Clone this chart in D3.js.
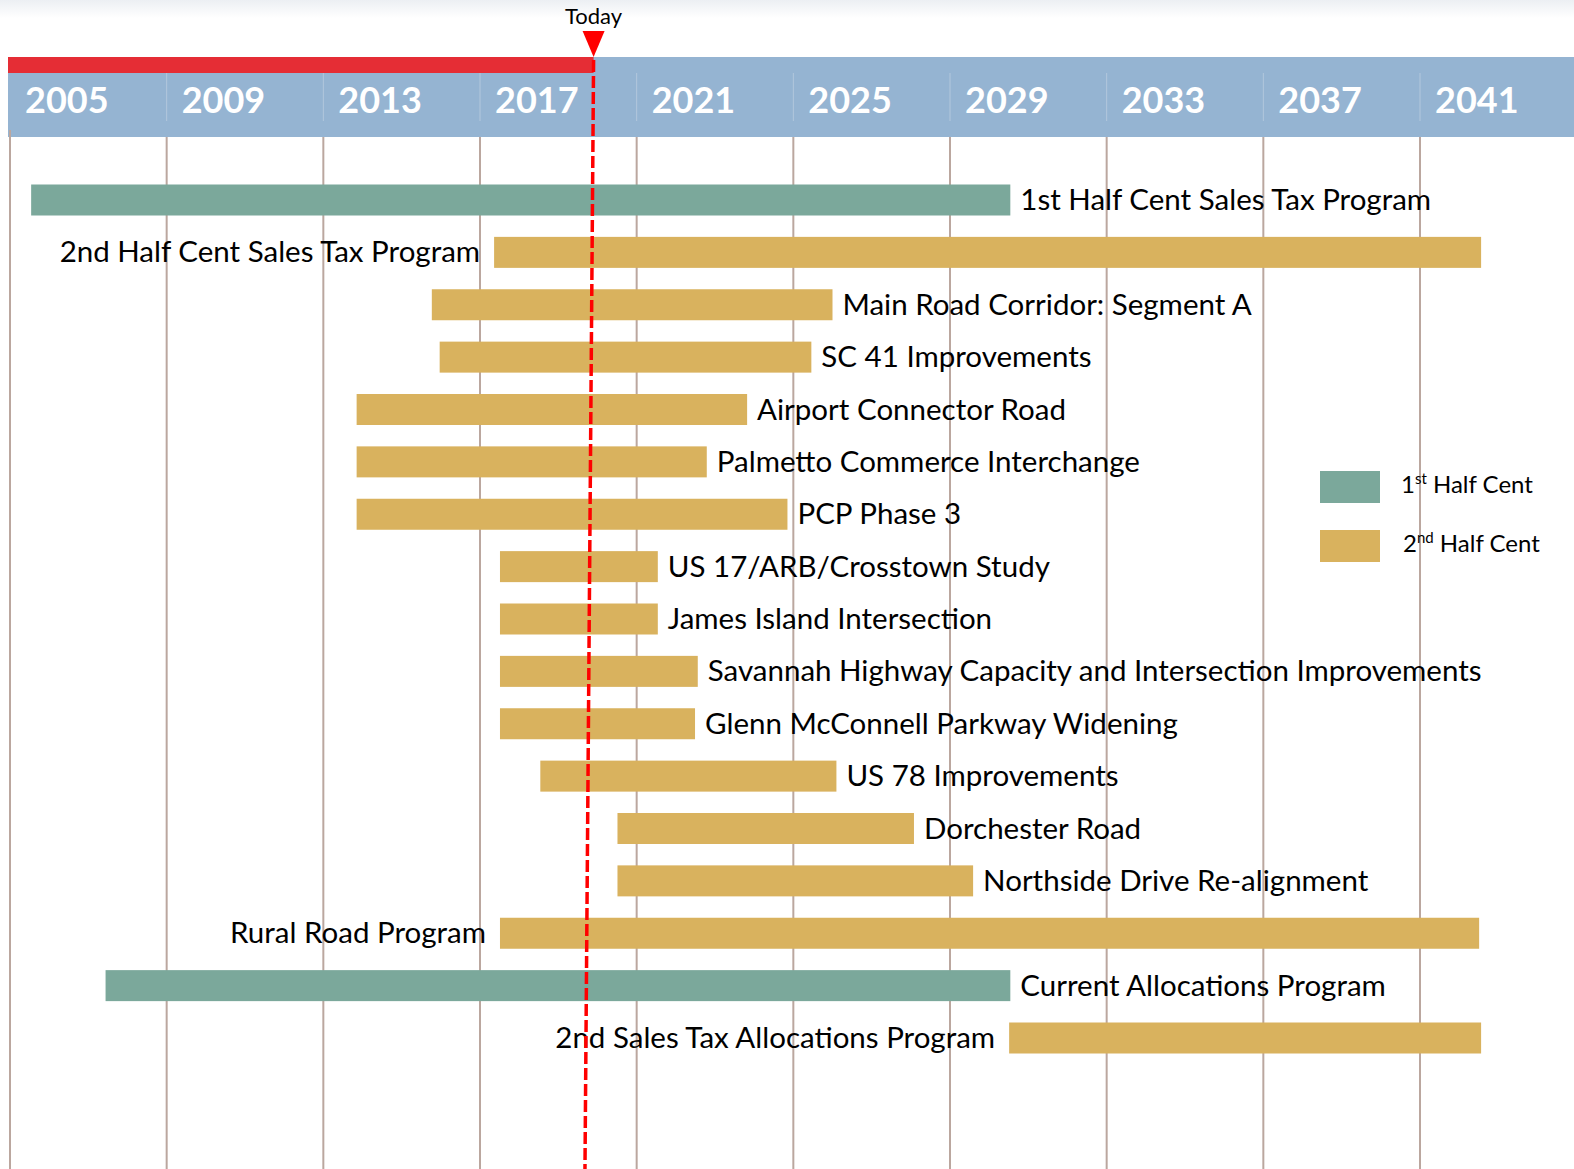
<!DOCTYPE html>
<html><head><meta charset="utf-8">
<script src="https://cdn.jsdelivr.net/npm/d3@7"></script>
<style>html,body{margin:0;padding:0;background:#fff;}svg{display:block;}</style>
</head><body>
<script>
// ---- data ----
const projects = [
  "1st Half Cent Sales Tax Program",
  "2nd Half Cent Sales Tax Program",
  "Main Road Corridor: Segment A",
  "SC 41 Improvements",
  "Airport Connector Road",
  "Palmetto Commerce Interchange",
  "PCP Phase 3",
  "US 17/ARB/Crosstown Study",
  "James Island Intersection",
  "Savannah Highway Capacity and Intersection Improvements",
  "Glenn McConnell Parkway Widening",
  "US 78 Improvements",
  "Dorchester Road",
  "Northside Drive Re-alignment",
  "Rural Road Program",
  "Current Allocations Program",
  "2nd Sales Tax Allocations Program"
];
const startYears = [2005.54, 2017.36, 2015.77, 2015.97, 2013.85, 2013.85, 2013.85, 2017.51, 2017.51, 2017.51, 2017.51, 2018.54, 2020.51, 2020.51, 2017.51, 2007.44, 2030.51];
const endYears   = [2030.54, 2042.56, 2026.00, 2025.46, 2023.82, 2022.79, 2024.85, 2021.54, 2021.54, 2022.56, 2022.49, 2026.10, 2028.08, 2029.59, 2042.51, 2030.54, 2042.56];
const program    = ["1st","2nd","2nd","2nd","2nd","2nd","2nd","2nd","2nd","2nd","2nd","2nd","2nd","2nd","2nd","1st","2nd"];
const labelSide  = ["right","left","right","right","right","right","right","right","right","right","right","right","right","right","left","right","left"];
const tickYears  = [2005, 2009, 2013, 2017, 2021, 2025, 2029, 2033, 2037, 2041];
const todayLine  = [2019.9, 2019.68]; // top, bottom (as drawn in the source)
const legendKeys = ["1st", "2nd"];
const legendSup  = ["st", "nd"];
const legendNum  = ["1", "2"];

// ---- setup ----
const W = 1574, H = 1169;
const colors = {"1st": "#7ba89b", "2nd": "#d9b25e"};
const svg = d3.select("body").append("svg").attr("width", W).attr("height", H);

const x = d3.scaleLinear().domain([2005, 2041]).range([10, 1420]);
const y = d3.scalePoint().domain(projects).range([200, 1038]);
const barH = 31;

// faint top gradient
const defs = svg.append("defs");
const g0 = defs.append("linearGradient").attr("id", "topg").attr("x1", 0).attr("y1", 0).attr("x2", 0).attr("y2", 1);
g0.append("stop").attr("offset", 0).attr("stop-color", "#eceff3");
g0.append("stop").attr("offset", 1).attr("stop-color", "#ffffff");
svg.append("rect").attr("x", 0).attr("y", 0).attr("width", W).attr("height", 18).attr("fill", "url(#topg)");

// header band
const headTop = 57, headBot = 137;
svg.append("rect").attr("x", 8).attr("y", headTop).attr("width", W - 8).attr("height", headBot - headTop).attr("fill", "#95b4d2");
svg.append("rect").attr("x", 8).attr("y", headTop).attr("width", x(todayLine[0]) - 8).attr("height", 16).attr("fill", "#e52d35");

// header separators
svg.append("g").selectAll("line").data(tickYears.slice(1)).join("line")
  .attr("x1", d => x(d)).attr("x2", d => x(d))
  .attr("y1", 73).attr("y2", 121)
  .attr("stroke", "#b3c8dd").attr("stroke-width", 1);

// year labels
svg.append("g").selectAll("text").data(tickYears).join("text")
  .attr("x", d => x(d) + 15).attr("y", 113)
  .attr("fill", "#ffffff")
  .attr("font-family", "Lato, 'Open Sans', sans-serif")
  .attr("font-weight", "bold")
  .attr("font-size", 36)
  .text(d => d);

// gridlines
svg.append("g").selectAll("line").data(tickYears).join("line")
  .attr("x1", d => x(d)).attr("x2", d => x(d))
  .attr("y1", d => d === 2005 ? 130 : headBot).attr("y2", H)
  .attr("stroke", "#bba79f").attr("stroke-width", 2);

// bars
const rows = projects.map((p, i) => ({name: p, s: startYears[i], e: endYears[i], prog: program[i], side: labelSide[i]}));
svg.append("g").selectAll("rect").data(rows).join("rect")
  .attr("x", d => x(d.s)).attr("width", d => x(d.e) - x(d.s))
  .attr("y", d => y(d.name) - barH / 2).attr("height", barH)
  .attr("fill", d => colors[d.prog]);

// labels
svg.append("g").selectAll("text").data(rows).join("text")
  .attr("x", d => d.side === "right" ? x(d.e) + 10 : x(d.s) - 14)
  .attr("y", d => y(d.name) + 10)
  .attr("text-anchor", d => d.side === "right" ? "start" : "end")
  .attr("font-family", "Lato, 'Open Sans', sans-serif")
  .attr("font-size", 29.5)
  .attr("fill", "#000")
  .text(d => d.name);

// legend
const leg = svg.append("g");
legendKeys.forEach((k, i) => {
  const ly = 471 + i * 59;
  leg.append("rect").attr("x", 1320).attr("y", ly).attr("width", 60).attr("height", 32).attr("fill", colors[k]);
  const t = leg.append("text").attr("x", 1401 + i * 2).attr("y", ly + 22)
    .attr("font-family", "Lato, 'Open Sans', sans-serif").attr("font-size", 24).attr("fill", "#000");
  t.append("tspan").text(legendNum[i]);
  t.append("tspan").attr("dy", -9).attr("font-size", 15).text(legendSup[i]);
  t.append("tspan").attr("dy", 9).text(" Half Cent");
});

// today line + marker
svg.append("line")
  .attr("x1", x(todayLine[0])).attr("y1", 60)
  .attr("x2", x(todayLine[1])).attr("y2", H)
  .attr("stroke", "#ff0000").attr("stroke-width", 3.5)
  .attr("stroke-dasharray", "12,4");
const tx = x(todayLine[0]);
svg.append("path")
  .attr("d", `M${tx - 11},31 L${tx + 11},31 L${tx},57 Z`)
  .attr("fill", "#ff0000");
svg.append("text").attr("x", tx).attr("y", 24).attr("text-anchor", "middle")
  .attr("font-family", "Lato, 'Open Sans', sans-serif").attr("font-size", 22).attr("fill", "#000")
  .text("Today");
</script>
</body></html>
